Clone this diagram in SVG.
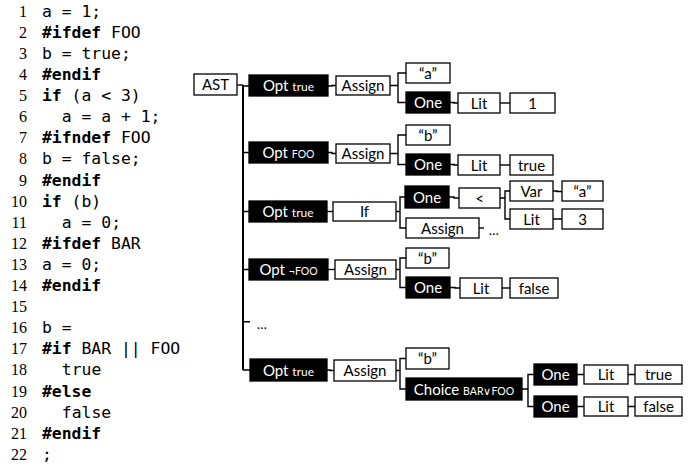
<svg xmlns="http://www.w3.org/2000/svg" width="694" height="471" viewBox="0 0 694 471">
<style>
.num{font-family:"Liberation Serif","Times New Roman",serif;font-size:16px;text-anchor:end;fill:#000}
.code{font-family:"DejaVu Sans Mono",monospace;font-size:16.4px;fill:#000}
.kw{font-weight:bold}
.w rect{fill:#fff;stroke:#000;stroke-width:1.3}
.k rect{fill:#000;stroke:#000;stroke-width:1.3}
.w text,.k text{font-family:Lato,"Liberation Sans",sans-serif;font-size:15px;text-anchor:middle}
.w text{fill:#000}
.k text{fill:#fff}
.s{font-size:12px}
.sc{font-size:10.5px}
.con path{fill:none;stroke:#000;stroke-width:1.4}
.dots{font-family:Lato,"Liberation Sans",sans-serif;font-size:13px;fill:#000}
</style>
<g id="code">
<text class="num" x="27" y="16.7">1</text><text class="code" x="42" y="16.7">a = 1;</text>
<text class="num" x="27" y="37.8">2</text><text class="code" x="42" y="37.8"><tspan class="kw">#ifdef</tspan> FOO</text>
<text class="num" x="27" y="58.9">3</text><text class="code" x="42" y="58.9">b = true;</text>
<text class="num" x="27" y="80">4</text><text class="code kw" x="42" y="80">#endif</text>
<text class="num" x="27" y="101.1">5</text><text class="code" x="42" y="101.1"><tspan class="kw">if</tspan> (a &lt; 3)</text>
<text class="num" x="27" y="122.2">6</text><text class="code" x="61.8" y="122.2">a = a + 1;</text>
<text class="num" x="27" y="143.3">7</text><text class="code" x="42" y="143.3"><tspan class="kw">#ifndef</tspan> FOO</text>
<text class="num" x="27" y="164.4">8</text><text class="code" x="42" y="164.4">b = false;</text>
<text class="num" x="27" y="185.5">9</text><text class="code kw" x="42" y="185.5">#endif</text>
<text class="num" x="27" y="206.6">10</text><text class="code" x="42" y="206.6"><tspan class="kw">if</tspan> (b)</text>
<text class="num" x="27" y="227.7">11</text><text class="code" x="61.8" y="227.7">a = 0;</text>
<text class="num" x="27" y="248.8">12</text><text class="code" x="42" y="248.8"><tspan class="kw">#ifdef</tspan> BAR</text>
<text class="num" x="27" y="269.9">13</text><text class="code" x="42" y="269.9">a = 0;</text>
<text class="num" x="27" y="291">14</text><text class="code kw" x="42" y="291">#endif</text>
<text class="num" x="27" y="312.1">15</text>
<text class="num" x="27" y="333.2">16</text><text class="code" x="42" y="333.2">b =</text>
<text class="num" x="27" y="354.3">17</text><text class="code" x="42" y="354.3"><tspan class="kw">#if</tspan> BAR || FOO</text>
<text class="num" x="27" y="375.4">18</text><text class="code" x="61.8" y="375.4">true</text>
<text class="num" x="27" y="396.5">19</text><text class="code kw" x="42" y="396.5">#else</text>
<text class="num" x="27" y="417.6">20</text><text class="code" x="61.8" y="417.6">false</text>
<text class="num" x="27" y="438.7">21</text><text class="code kw" x="42" y="438.7">#endif</text>
<text class="num" x="27" y="459.8">22</text><text class="code" x="42" y="459.8">;</text>
</g>
<g id="connectors" class="con">
<path d="M237,85 H243" />
<path d="M243,85 V370" style="stroke-width:2"/>
<path d="M243,86 H249 M243,152.5 H249 M243,211.5 H249 M243,269.5 H249 M243,321.7 H250 M243,370 H250"/>
<path d="M328,86 H332 V85.5 H336"/>
<path d="M390,85.5 H398 M406,73 H398 V102.5 H406"/>
<path d="M450,102.5 H454 V103 H458"/>
<path d="M500,103 H505 V103 H510"/>
<path d="M328,152.5 H332 V153.5 H336"/>
<path d="M390,153.5 H398 M406,135 H398 V164.5 H406"/>
<path d="M450,164.5 H454 V165 H458"/>
<path d="M500,165 H510"/>
<path d="M327,211.5 H330 V211.5 H333"/>
<path d="M396,211.5 H400 M405,197 H400 V228 H406"/>
<path d="M449,197 H454 V198 H459"/>
<path d="M500,198 H505 M510,191 H505 V219 H510"/>
<path d="M553,191 H557 V191.5 H562 M553,219 H557 V219 H562"/>
<path d="M479,228 H484"/>
<path d="M328,269.5 H331 V269.5 H335"/>
<path d="M396,269.5 H400 M406,258 H400 V287.5 H406"/>
<path d="M450,287.5 H455 V288 H460"/>
<path d="M502,288 H510"/>
<path d="M327,370 H330 V370.5 H334"/>
<path d="M396,370.5 H400 M406,358.5 H400 V389 H406"/>
<path d="M522,389 H528 M534,374.5 H528 V406.5 H534"/>
<path d="M577,374.5 H580 V374.5 H584 M628,374.5 H631 V374.5 H635"/>
<path d="M577,406.5 H580 V406.5 H584 M628,406.5 H631 V406.5 H635"/>
</g>
<g id="ast" class="w"><rect x="194" y="74" width="43" height="21"/><text x="215.5" y="90">AST</text></g>
<g id="opt1" class="k"><rect x="249" y="75" width="79" height="21"/><text x="288.5" y="91">Opt <tspan class="s">true</tspan></text></g>
<g id="assign1" class="w"><rect x="336" y="76" width="54" height="19"/><text x="363" y="91">Assign</text></g>
<g id="str-a1" class="w"><rect x="406" y="63" width="44" height="20"/><text x="428" y="78.5">“a”</text></g>
<g id="one1" class="k"><rect x="406" y="92" width="44" height="21"/><text x="428" y="108">One</text></g>
<g id="lit1" class="w"><rect x="458" y="93" width="42" height="20"/><text x="479" y="108.5">Lit</text></g>
<g id="val1" class="w"><rect x="510" y="93" width="45" height="20"/><text x="532.5" y="108.5">1</text></g>
<g id="opt2" class="k"><rect x="249" y="142" width="79" height="21"/><text x="288.5" y="158">Opt <tspan class="sc">FOO</tspan></text></g>
<g id="assign2" class="w"><rect x="336" y="144" width="54" height="19"/><text x="363" y="159">Assign</text></g>
<g id="str-b2" class="w"><rect x="406" y="125" width="44" height="20"/><text x="428" y="140.5">“b”</text></g>
<g id="one2" class="k"><rect x="406" y="154" width="44" height="21"/><text x="428" y="170">One</text></g>
<g id="lit2" class="w"><rect x="458" y="155" width="42" height="20"/><text x="479" y="170.5">Lit</text></g>
<g id="val2" class="w"><rect x="510" y="155" width="43" height="20"/><text x="531.5" y="170.5">true</text></g>
<g id="opt3" class="k"><rect x="249" y="201" width="78" height="21"/><text x="288" y="217">Opt <tspan class="s">true</tspan></text></g>
<g id="if3" class="w"><rect x="333" y="202" width="63" height="19"/><text x="364.5" y="217">If</text></g>
<g id="one3" class="k"><rect x="405" y="186" width="44" height="22"/><text x="427" y="202.5">One</text></g>
<g id="lt3" class="w"><rect x="459" y="188" width="41" height="20"/><text x="479.5" y="203.5">&lt;</text></g>
<g id="assign3" class="w"><rect x="406" y="218" width="73" height="20"/><text x="442.5" y="233.5">Assign</text></g>
<text class="dots" x="489" y="235">…</text>
<g id="var3" class="w"><rect x="510" y="181" width="43" height="20"/><text x="531.5" y="196.5">Var</text></g>
<g id="str-a3" class="w"><rect x="562" y="181" width="41" height="20"/><text x="582.5" y="196.5">“a”</text></g>
<g id="lit3" class="w"><rect x="510" y="209" width="43" height="20"/><text x="531.5" y="224.5">Lit</text></g>
<g id="val3" class="w"><rect x="562" y="209" width="41" height="20"/><text x="582.5" y="224.5">3</text></g>
<g id="opt4" class="k"><rect x="249" y="259" width="79" height="21"/><text x="288.5" y="275">Opt <tspan class="sc">¬FOO</tspan></text></g>
<g id="assign4" class="w"><rect x="335" y="260" width="61" height="19"/><text x="365.5" y="275">Assign</text></g>
<g id="str-b4" class="w"><rect x="406" y="248" width="43" height="20"/><text x="427.5" y="263.5">“b”</text></g>
<g id="one4" class="k"><rect x="406" y="277" width="44" height="21"/><text x="428" y="293">One</text></g>
<g id="lit4" class="w"><rect x="460" y="278" width="42" height="20"/><text x="481" y="293.5">Lit</text></g>
<g id="val4" class="w"><rect x="510" y="278" width="48" height="20"/><text x="534" y="293.5">false</text></g>
<text class="dots" x="257" y="329">…</text>
<g id="opt5" class="k"><rect x="250" y="359" width="77" height="22"/><text x="288.5" y="375.5">Opt <tspan class="s">true</tspan></text></g>
<g id="assign5" class="w"><rect x="334" y="360" width="62" height="21"/><text x="365" y="376">Assign</text></g>
<g id="str-b5" class="w"><rect x="406" y="348" width="43" height="21"/><text x="427.5" y="364">“b”</text></g>
<g id="choice5" class="k"><rect x="406" y="378" width="116" height="22"/><text x="464" y="394.5">Choice <tspan class="sc">BAR∨FOO</tspan></text></g>
<g id="one5a" class="k"><rect x="534" y="364" width="43" height="21"/><text x="555.5" y="380">One</text></g>
<g id="lit5a" class="w"><rect x="584" y="365" width="44" height="19"/><text x="606" y="380">Lit</text></g>
<g id="val5a" class="w"><rect x="635" y="365" width="47" height="19"/><text x="658.5" y="380">true</text></g>
<g id="one5b" class="k"><rect x="534" y="396" width="43" height="21"/><text x="555.5" y="412">One</text></g>
<g id="lit5b" class="w"><rect x="584" y="397" width="44" height="19"/><text x="606" y="412">Lit</text></g>
<g id="val5b" class="w"><rect x="635" y="397" width="47" height="19"/><text x="658.5" y="412">false</text></g>
</svg>
